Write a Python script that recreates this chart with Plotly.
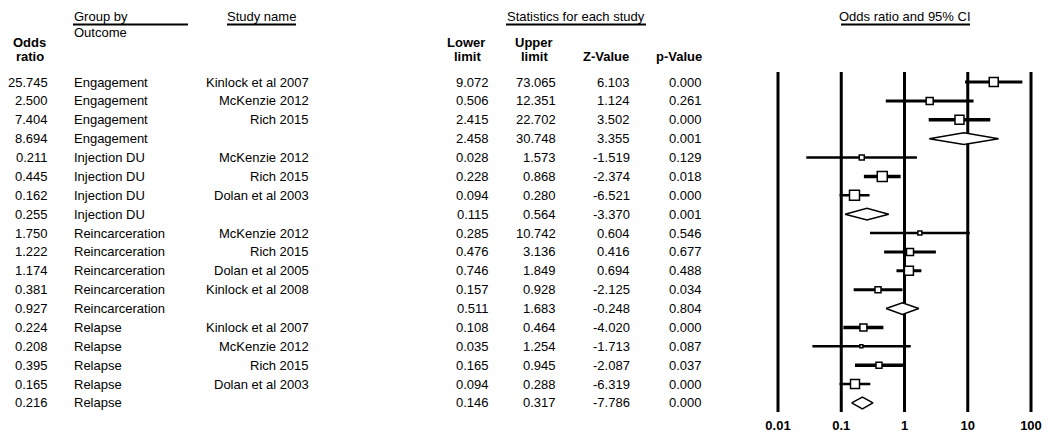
import math
import plotly.graph_objects as go

# ---- data ----
odds_ratio = [25.745, 2.500, 7.404, 8.694, 0.211, 0.445, 0.162, 0.255, 1.750,
              1.222, 1.174, 0.381, 0.927, 0.224, 0.208, 0.395, 0.165, 0.216]
outcome = (["Engagement"] * 4 + ["Injection DU"] * 4 +
           ["Reincarceration"] * 5 + ["Relapse"] * 5)
study = ["Kinlock et al 2007", "McKenzie 2012", "Rich 2015", "",
         "McKenzie 2012", "Rich 2015", "Dolan et al 2003", "",
         "McKenzie 2012", "Rich 2015", "Dolan et al 2005", "Kinlock et al 2008", "",
         "Kinlock et al 2007", "McKenzie 2012", "Rich 2015", "Dolan et al 2003", ""]
lower_limit = [9.072, 0.506, 2.415, 2.458, 0.028, 0.228, 0.094, 0.115, 0.285,
               0.476, 0.746, 0.157, 0.511, 0.108, 0.035, 0.165, 0.094, 0.146]
upper_limit = [73.065, 12.351, 22.702, 30.748, 1.573, 0.868, 0.280, 0.564, 10.742,
               3.136, 1.849, 0.928, 1.683, 0.464, 1.254, 0.945, 0.288, 0.317]
z_value = [6.103, 1.124, 3.502, 3.355, -1.519, -2.374, -6.521, -3.370, 0.604,
           0.416, 0.694, -2.125, -0.248, -4.020, -1.713, -2.087, -6.319, -7.786]
p_value = [0.000, 0.261, 0.000, 0.001, 0.129, 0.018, 0.000, 0.001, 0.546,
           0.677, 0.488, 0.034, 0.804, 0.000, 0.087, 0.037, 0.000, 0.000]
tick_vals = [0.01, 0.1, 1, 10, 100]
tick_text = ["0.01", "0.1", "1", "10", "100"]

# ---- styling (pixel sizes of the study squares / CI lines) ----
square_px = [9, 7, 9, 0, 5, 10, 10, 0, 4, 7, 9, 6, 0, 7, 3, 6, 9, 0]
ci_width = [3, 3, 3.5, 0, 2.5, 3.5, 2.5, 0, 2.5, 3, 3, 3, 0, 3.5, 2.5, 3.5, 2.5, 0]

W, H = 1050, 440
FONT = "Arial, Liberation Sans, sans-serif"
ROW0_PX, ROW_STEP = 82, 18.88
X_LEFT, X_RIGHT = 778, 1031          # pixel of 0.01 and 100
dec_px = (X_RIGHT - X_LEFT) / 4
pad = 0.1


def py_to_row(py):
    return 1 + (py - ROW0_PX) / ROW_STEP


def py_to_paper(py):
    return 1 - py / H


rows = list(range(1, len(odds_ratio) + 1))
is_summary = [s == "" for s in study]

fig = go.Figure()

# vertical reference lines
for v in tick_vals:
    fig.add_trace(go.Scatter(x=[v, v], y=[py_to_row(72), py_to_row(412)], mode="lines",
                             line=dict(color="black", width=3), hoverinfo="skip"))

# CI lines and squares for individual studies
for r, o, lo, hi, summ, sz, lw in zip(rows, odds_ratio, lower_limit, upper_limit,
                                       is_summary, square_px, ci_width):
    if summ:
        continue
    fig.add_trace(go.Scatter(x=[lo, hi], y=[r, r], mode="lines",
                             line=dict(color="black", width=lw), hoverinfo="skip"))
for r, o, summ, sz in zip(rows, odds_ratio, is_summary, square_px):
    if summ:
        continue
    fig.add_trace(go.Scatter(x=[o], y=[r], mode="markers",
                             marker=dict(symbol="square", size=sz, color="white",
                                         line=dict(color="black", width=1.5)),
                             hoverinfo="skip"))

# diamonds for subgroup summaries
h = 0.31
for r, o, lo, hi, summ in zip(rows, odds_ratio, lower_limit, upper_limit, is_summary):
    if not summ:
        continue
    fig.add_trace(go.Scatter(x=[lo, o, hi, o, lo], y=[r, r - h, r, r + h, r],
                             mode="lines", fill="toself", fillcolor="white",
                             line=dict(color="black", width=1.5), hoverinfo="skip"))

# axis labels under the forest plot
fig.add_trace(go.Scatter(x=tick_vals, y=[py_to_row(427)] * len(tick_vals), mode="text",
                         text=tick_text, textposition="middle center",
                         textfont=dict(family=FONT, size=13, color="black", weight="bold"),
                         hoverinfo="skip", cliponaxis=False))

ann = []


def txt(x_px, y, s, anchor="right", yref="y", bold=False):
    ann.append(dict(x=x_px / W, xref="paper", y=y, yref=yref, text=s, showarrow=False,
                    xanchor=anchor, yanchor="middle",
                    font=dict(family=FONT, size=13, color="black",
                              weight="bold" if bold else "normal")))


for r, o, g, s, lo, hi, z, p in zip(rows, odds_ratio, outcome, study, lower_limit,
                                      upper_limit, z_value, p_value):
    txt(50, r, f"{o:.3f}")
    txt(72, r, g, anchor="left")
    if s:
        txt(311, r, s)
    txt(491, r, f"{lo:.3f}")
    txt(558, r, f"{hi:.3f}")
    txt(632, r, f"{z:.3f}")
    txt(704, r, f"{p:.3f}")

# header texts
txt(72, py_to_paper(16), "Group by", anchor="left", yref="paper")
txt(72, py_to_paper(32), "Outcome", anchor="left", yref="paper")
txt(261, py_to_paper(16), "Study name", anchor="center", yref="paper")
txt(576, py_to_paper(16), "Statistics for each study", anchor="center", yref="paper")
txt(905, py_to_paper(16), "Odds ratio and 95% CI", anchor="center", yref="paper")
txt(29, py_to_paper(42), "Odds", anchor="center", yref="paper", bold=True)
txt(30, py_to_paper(57), "ratio", anchor="center", yref="paper", bold=True)
txt(466, py_to_paper(42), "Lower", anchor="center", yref="paper", bold=True)
txt(467, py_to_paper(57), "limit", anchor="center", yref="paper", bold=True)
txt(534, py_to_paper(42), "Upper", anchor="center", yref="paper", bold=True)
txt(534, py_to_paper(57), "limit", anchor="center", yref="paper", bold=True)
txt(606, py_to_paper(57), "Z-Value", anchor="center", yref="paper", bold=True)
txt(679, py_to_paper(57), "p-Value", anchor="center", yref="paper", bold=True)

shapes = []
for x0, x1 in [(73, 188), (227, 296), (506, 646), (841, 970)]:
    shapes.append(dict(type="line", xref="paper", yref="paper",
                       x0=x0 / W, x1=x1 / W, y0=py_to_paper(24.5), y1=py_to_paper(24.5),
                       line=dict(color="black", width=2)))

fig.update_layout(
    width=W, height=H, margin=dict(l=0, r=0, t=0, b=0),
    paper_bgcolor="white", plot_bgcolor="white", showlegend=False,
    annotations=ann, shapes=shapes,
    xaxis=dict(type="log", range=[-2 - pad, 2 + pad],
               domain=[(X_LEFT - pad * dec_px) / W, (X_RIGHT + pad * dec_px) / W],
               visible=False),
    yaxis=dict(range=[py_to_row(H), py_to_row(0)], domain=[0, 1], visible=False),
)

# page body margin would shift the whole picture by 8px
fig.write_html("out.html", config={"displayModeBar": False},
               post_script="document.body.style.margin='0';")
